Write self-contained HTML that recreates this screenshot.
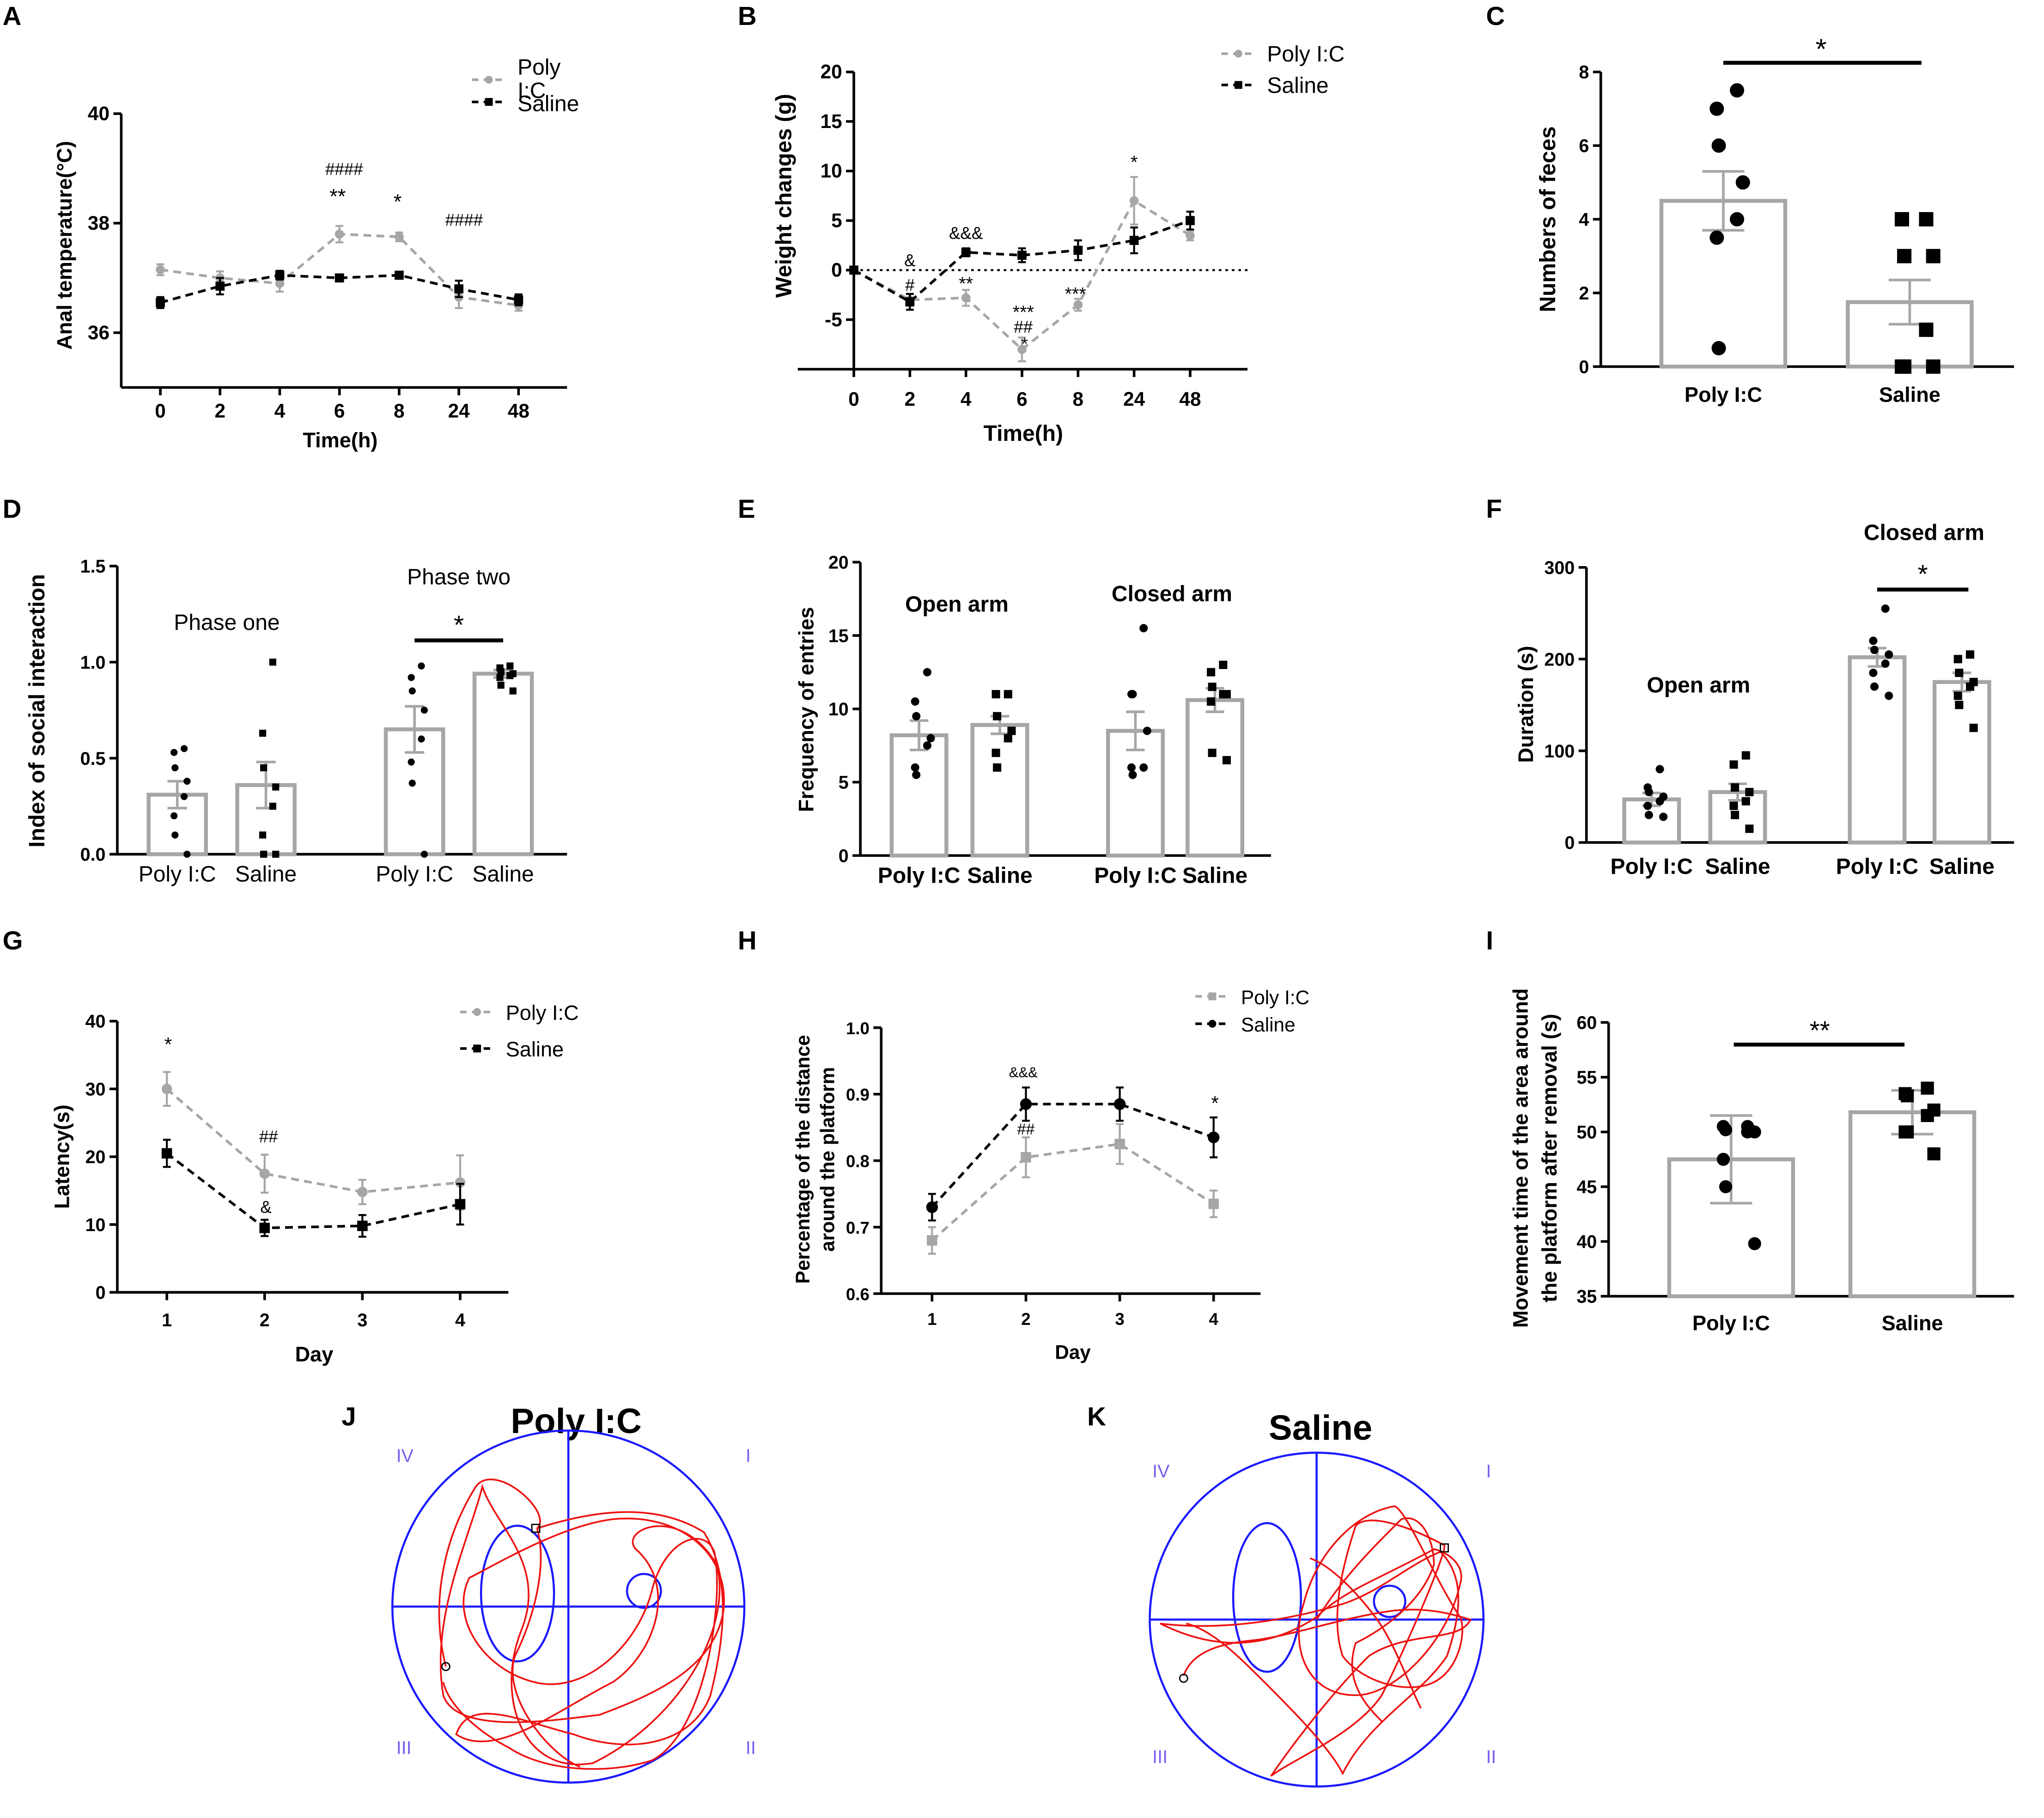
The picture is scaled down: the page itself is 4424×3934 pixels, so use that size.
<!DOCTYPE html>
<html><head><meta charset="utf-8"><style>
html,body{margin:0;padding:0;background:#fff;}
svg{display:block;font-family:"Liberation Sans",Arial,sans-serif;}
</style></head><body>
<svg id="fig" xmlns="http://www.w3.org/2000/svg" width="4424" height="3934" viewBox="0 0 1568 1394">
<rect x="0" y="0" width="1568" height="1394" fill="#fff"/>
<g font-weight="bold" font-size="20">
<text x="2" y="19">A</text>
<text x="566" y="19">B</text>
<text x="1140" y="19">C</text>
<text x="2" y="397">D</text>
<text x="566" y="397">E</text>
<text x="1140" y="397">F</text>
<text x="2" y="728">G</text>
<text x="566" y="728">H</text>
<text x="1140" y="728">I</text>
<text x="262" y="1093">J</text>
<text x="834" y="1093">K</text>
</g>
<g id="maze">
<text x="442" y="1099" font-size="27" font-weight="bold" text-anchor="middle">Poly I:C</text>
<text x="1013" y="1104" font-size="27" font-weight="bold" text-anchor="middle">Saline</text>
<g fill="#7b5cf0" font-size="14">
<text x="304" y="1121">IV</text>
<text x="572" y="1121">I</text>
<text x="304" y="1345">III</text>
<text x="572" y="1345">II</text>
<text x="884" y="1133">IV</text>
<text x="1140" y="1133">I</text>
<text x="884" y="1352">III</text>
<text x="1140" y="1352">II</text>
</g>
<g fill="none" stroke="#1a1aff" stroke-width="1.6">
<circle cx="436" cy="1232" r="135"/>
<line x1="301" y1="1232" x2="571" y2="1232"/>
<line x1="436" y1="1097" x2="436" y2="1367"/>
<ellipse cx="397" cy="1222" rx="28" ry="52"/>
<circle cx="494" cy="1220" r="13"/>
<circle cx="1010" cy="1242" r="128"/>
<line x1="882" y1="1242" x2="1138" y2="1242"/>
<line x1="1010" y1="1114" x2="1010" y2="1370"/>
<ellipse cx="972" cy="1225" rx="26" ry="57"/>
<circle cx="1066" cy="1228" r="12"/>
</g>
<g fill="none" stroke="#ee1111" stroke-width="1.3">
<path d="M342,1278 C330,1230 340,1180 365,1140 C380,1120 425,1160 412,1172 C450,1160 500,1150 540,1175 C562,1210 555,1260 545,1300 C530,1340 480,1345 440,1330 C400,1320 360,1300 350,1330 C380,1350 430,1310 470,1290 C500,1270 520,1220 490,1190 C470,1175 520,1150 550,1200 C562,1250 520,1320 455,1352 C400,1362 380,1300 400,1250 C420,1200 380,1170 370,1140 C360,1180 330,1240 340,1300 C350,1330 420,1320 460,1315 C500,1300 548,1280 555,1235 C560,1190 520,1160 470,1165 C430,1170 380,1200 360,1210 C345,1240 370,1280 410,1290 C450,1300 490,1260 500,1220 C510,1180 540,1170 548,1190 C556,1230 540,1330 500,1350 C470,1360 420,1360 390,1340 C370,1330 345,1310 340,1290 M412,1172 C420,1200 410,1240 395,1270 C385,1300 420,1345 445,1355"/>
<path d="M908,1285 C915,1265 940,1260 960,1258 C990,1255 1030,1240 1070,1235 C1100,1232 1120,1240 1128,1242 C1120,1260 1080,1250 1050,1270 C1020,1300 990,1340 975,1362 C990,1350 1040,1330 1060,1300 C1080,1260 1110,1190 1108,1185 C1080,1170 1050,1160 1040,1170 C1030,1200 1020,1240 1030,1270 C1045,1290 1080,1300 1100,1290 C1120,1280 1125,1250 1120,1240 C1100,1210 1080,1160 1070,1155 C1040,1160 1010,1190 1000,1230 C990,1260 1000,1300 1040,1300 C1070,1300 1110,1260 1120,1215 C1125,1200 1110,1190 1100,1188 C1060,1210 1030,1220 1010,1240 C980,1260 940,1270 890,1245 C930,1250 980,1245 1030,1230 C1060,1220 1080,1200 1105,1190 C1125,1210 1120,1240 1110,1270 C1090,1300 1050,1320 1030,1360 C1020,1340 990,1310 970,1290 C950,1270 930,1250 910,1245 M1010,1242 C1030,1210 1050,1190 1075,1165 C1090,1160 1100,1180 1100,1200 C1090,1230 1060,1250 1040,1260 C1030,1290 1050,1310 1060,1320 M1005,1195 C1020,1200 1040,1220 1055,1240 C1070,1260 1080,1290 1090,1310"/>
</g>
<circle cx="342" cy="1278" r="3" fill="none" stroke="#000"/>
<rect x="408" y="1169" width="6" height="6" fill="none" stroke="#000"/>
<circle cx="908" cy="1287" r="3" fill="none" stroke="#000"/>
<rect x="1105" y="1184" width="6" height="6" fill="none" stroke="#000"/>
</g>
</svg>
<script>
const NS="http://www.w3.org/2000/svg";
const S=document.getElementById('fig');
// ---------- DATA ----------
const timeCats=["0","2","4","6","8","24","48"];
const aPoly=[37.15,37.0,36.9,37.8,37.75,36.65,36.5];
const aPolyErr=[0.1,0.12,0.15,0.15,0.08,0.2,0.1];
const aSal=[36.55,36.85,37.05,37.0,37.05,36.8,36.6];
const aSalErr=[0.1,0.15,0.08,0.05,0.06,0.15,0.1];
const aTicks=[36,38,40];
const bPoly=[0,-3,-2.8,-8,-3.5,7,3.5];
const bPolyErr=[0.3,0.6,0.8,1.2,0.6,2.4,0.5];
const bSal=[0,-3.2,1.8,1.5,2,3,5];
const bSalErr=[0.3,0.8,0.4,0.7,1.0,1.3,0.9];
const bTicks=[-5,0,5,10,15,20];
const cCats=["Poly I:C","Saline"];
const cMeans=[4.5,1.75];
const cErr=[0.8,0.6];
const cPolyPts=[7.5,7.0,6.0,5.0,4.0,3.5,0.5];
const cSalPts=[4.0,4.0,3.0,3.0,1.0,0,0,0];
const cTicks=[0,2,4,6,8];
const dCats=["Poly I:C","Saline","Poly I:C","Saline"];
const dMeans=[0.31,0.36,0.65,0.94];
const dErr=[0.07,0.12,0.12,0.02];
const dPts=[[0.55,0.53,0.45,0.38,0.3,0.2,0.1,0.0],[1.0,0.63,0.45,0.35,0.25,0.1,0.0,0.0],[0.98,0.92,0.85,0.75,0.6,0.48,0.37,0.0],[0.98,0.97,0.95,0.94,0.93,0.92,0.88,0.85]];
const dTicks=[0,0.5,1.0,1.5];
const eCats=["Poly I:C","Saline","Poly I:C","Saline"];
const eMeans=[8.2,8.9,8.5,10.6];
const eErr=[1.0,0.6,1.3,0.8];
const ePts=[[12.5,10.5,9.5,8.0,7.5,6.0,5.5],[11.0,11.0,9.5,8.5,8.0,7.0,6.0],[15.5,11.0,11.0,8.5,6.0,6.0,5.5],[13.0,12.5,11.5,11.0,11.0,10.5,7.0,6.5]];
const eTicks=[0,5,10,15,20];
const fCats=["Poly I:C","Saline","Poly I:C","Saline"];
const fMeans=[47,55,202,175];
const fErr=[7,9,10,10];
const fPts=[[80,60,55,50,45,40,30,28],[95,85,60,55,45,40,30,15],[255,220,210,205,195,185,170,160],[205,200,185,175,170,160,150,125]];
const fTicks=[0,100,200,300];
const dayCats=["1","2","3","4"];
const gPoly=[30,17.5,14.8,16.2];
const gPolyErr=[2.5,2.8,1.8,4.0];
const gSal=[20.5,9.5,9.8,13];
const gSalErr=[2.0,1.2,1.6,3.0];
const gTicks=[0,10,20,30,40];
const hPoly=[0.68,0.805,0.825,0.735];
const hPolyErr=[0.02,0.03,0.03,0.02];
const hSal=[0.73,0.885,0.885,0.835];
const hSalErr=[0.02,0.025,0.025,0.03];
const hTicks=[0.6,0.7,0.8,0.9,1.0];
const iCats=["Poly I:C","Saline"];
const iMeans=[47.5,51.8];
const iErr=[4.0,2.0];
const iPolyPts=[50.5,50.5,50.2,50.0,50.0,47.5,45.0,39.8];
const iSalPts=[54.0,53.5,53.3,52.0,51.5,50.0,50.0,48.0];
const iTicks=[35,40,45,50,55,60];
const GRAY="#a6a6a6";
// ---------- HELPERS ----------
function mk(tag,attrs,parent){const e=document.createElementNS(NS,tag);for(const k in attrs)e.setAttribute(k,attrs[k]);(parent||S).appendChild(e);return e;}
function txt(x,y,s,size,anchor,bold,parent,rot){const t=mk('text',{x:x,y:y,'font-size':size,'text-anchor':anchor||'middle','font-weight':bold?'bold':'normal'},parent);if(rot)t.setAttribute('transform','rotate(-90 '+x+' '+y+')');t.textContent=s;return t;}
function linScale(d0,d1,r0,r1){return v=>r0+(v-d0)*(r1-r0)/(d1-d0);}
function yAxis(g,x,ytop,ybot,ticks,ys,fmt,size,bold){
 const l=mk('line',{x1:x,y1:ytop,x2:x,y2:ybot,stroke:'#000','stroke-width':2},g);
 
 
 ticks.forEach(v=>{const tl=mk('line',{x1:x-6,y1:ys(v),x2:x,y2:ys(v),stroke:'#000','stroke-width':2},g);
  
  
  const t=txt(x-9,ys(v)+5,fmt(v),size,'end',bold,g);
  
  });
}
function xAxisLine(g,x0,x1,y){const l=mk('line',{x1:x0,y1:y,x2:x1,y2:y,stroke:'#000','stroke-width':2},g);
 
 }
function marker(g,x,y,shape,r,color){let m;
 if(shape==='sq'){m=mk('rect',{x:x-r,y:y-r,width:2*r,height:2*r,fill:color},g);}
 else{m=mk('circle',{cx:x,cy:y,r:r,fill:color},g);}
 return m;}
function errBar(g,x,y1,y2,w,color,sw){const p=mk('path',{d:`M${x},${y1}V${y2}M${x-w},${y1}H${x+w}M${x-w},${y2}H${x+w}`,stroke:color,'stroke-width':sw||1.5,fill:'none'},g);
 
 }
function series(g,xs,ys,vals,errs,color,shape,r,dash,name){
 const d=vals.map((v,i)=>(i?'L':'M')+xs(i)+','+ys(v)).join('');
 const p=mk('path',{d:d,fill:'none',stroke:color,'stroke-width':2,'stroke-dasharray':dash},g);
 
 
 vals.forEach((v,i)=>{errBar(g,xs(i),ys(v+errs[i]),ys(v-errs[i]),3,color,1.5);
  const m=marker(g,xs(i),ys(v),shape,r,color);
  
  });
}
function xCats(g,cats,xs,y,size,bold){cats.forEach((c,i)=>{const t=txt(xs(i),y,c,size,'middle',bold,g);
 
 });}
function xTicks(g,n,xs,y){for(let i=0;i<n;i++){const l=mk('line',{x1:xs(i),y1:y,x2:xs(i),y2:y+6,stroke:'#000','stroke-width':2},g);
 
 }}
function bars(g,cats,means,errs,cx,w,ys,y0,name){
 means.forEach((v,i)=>{const b=mk('rect',{x:cx[i]-w/2,y:ys(v),width:w,height:y0-ys(v),fill:'#fff',stroke:GRAY,'stroke-width':3},g);
  
  
  errBar(g,cx[i],ys(v+errs[i]),ys(v-errs[i]),w*0.17,GRAY,2);});
}
function pts(g,vals,cx,spread,ys,shape,r,name){
 vals.forEach((v,i)=>{const off=((i%4)-1.5)*spread*(i%2?1:-0.7);
  const m=marker(g,cx+off,ys(v),shape,r,'#000');
  
  });}
function legend(g,x,y,items,size){items.forEach((it,i)=>{const yy=y+i*it.dy;
 const l=mk('line',{x1:x,y1:yy,x2:x+26,y2:yy,stroke:it.color,'stroke-width':2,'stroke-dasharray':'5,4'},g);
 
 
 const m=marker(g,x+13,yy,it.shape,3,it.color);
 
 
 const t=txt(x+35,yy+(it.ty!==undefined?it.ty:6),it.label,size,'start',false,g);
 
 });}
function group(name){const g=mk('g',{});
 
 
 return g;}
function ann(g,x,y,s,size){const t=txt(x,y,s,size||14,'middle',false,g);
 
 }
// ---------- PANEL A ----------
(function(){const g=group('panel-a-temperature');
 const ys=linScale(35,40,297,87),xs=i=>123+i*45.8;
 yAxis(g,93,87,297,aTicks,ys,v=>v,15,true);xAxisLine(g,93,435,297);xTicks(g,7,xs,297);
 xCats(g,timeCats,xs,320,15,true);
 const t=txt(261,343,'Time(h)',16,'middle',true,g);
 const y=txt(55,188,'Anal temperature(°C)',16,'middle',true,g,true);
 series(g,xs,ys,aPoly,aPolyErr,GRAY,'c',3.5,'6,4','polyic');
 series(g,xs,ys,aSal,aSalErr,'#000','sq',3.5,'6,4','saline');
 ann(g,264,134,'####',13);ann(g,259,156,'**',16);ann(g,305,160,'*',16);ann(g,356,173,'####',13);
 legend(g,362,61,[{label:'Poly',color:GRAY,shape:'c',dy:17,ty:-4},{label:'Saline',color:'#000',shape:'sq',dy:17,ty:7}],17);
 const ic=txt(397,75,'I:C',17,'start',false,g);
})();
// ---------- PANEL B ----------
(function(){const g=group('panel-b-weight');
 const ys=linScale(-10,20,283,55),xs=i=>655+i*43;
 yAxis(g,655,55,283,bTicks,ys,v=>v,15,true);xAxisLine(g,612,957,283);xTicks(g,7,xs,283);
 xCats(g,timeCats,xs,311,15,true);
 const t=txt(785,338,'Time(h)',17,'middle',true,g);
 const y=txt(607,150,'Weight changes (g)',17,'middle',true,g,true);
 const zl=mk('line',{x1:655,y1:ys(0),x2:957,y2:ys(0),stroke:'#000','stroke-width':1.5,'stroke-dasharray':'2,3'},g);
 
 
 series(g,xs,ys,bPoly,bPolyErr,GRAY,'c',3.5,'6,4','polyic');
 series(g,xs,ys,bSal,bSalErr,'#000','sq',3.5,'6,4','saline');
 ann(g,698,204,'&',13);ann(g,698,223,'#',13);ann(g,741,183,'&&&',13);ann(g,741,222,'**',14);
 ann(g,785,244,'***',14);ann(g,785,255,'##',13);ann(g,786,268,'*',13);ann(g,825,230,'***',14);ann(g,870,129,'*',14);
 legend(g,937,41,[{label:'Poly I:C',color:GRAY,shape:'c',dy:24},{label:'Saline',color:'#000',shape:'sq',dy:24}],17);
})();
// ---------- PANEL C ----------
(function(){const g=group('panel-c-feces');
 const ys=linScale(0,8,281,55),cx=[1322,1465];
 yAxis(g,1228,55,281,cTicks,ys,v=>v,14,true);xAxisLine(g,1228,1545,281);
 bars(g,cCats,cMeans,cErr,cx,95,ys,281,'feces');
 pts(g,cPolyPts,cx[0],10,ys,'c',5.5,'polyic-dot');pts(g,cSalPts,cx[1],12,ys,'sq',5.5,'saline-dot');
 xCats(g,cCats,i=>cx[i],308,16,true);
 const y=txt(1193,168,'Numbers of feces',17,'middle',true,g,true);
 const s=mk('line',{x1:1322,y1:48,x2:1474,y2:48,stroke:'#000','stroke-width':3},g);
 ann(g,1397,45,'*',22);
})();
// ---------- PANEL D ----------
(function(){const g=group('panel-d-social');
 const ys=linScale(0,1.5,655,434),cx=[136,204,318,386];
 yAxis(g,90,434,655,dTicks,ys,v=>v.toFixed(1),14,true);xAxisLine(g,90,435,655);
 bars(g,dCats,dMeans,dErr,cx,44,ys,655,'social');
 dPts.forEach((a,k)=>pts(g,a,cx[k],5,ys,k%2?'sq':'c',2.7,'social-dot'));
 xCats(g,dCats,i=>cx[i],676,17,false);
 const y=txt(34,545,'Index of social interaction',17,'middle',true,g,true);
 const p1=txt(174,483,'Phase one',17,'middle',false,g);
 const p2=txt(352,448,'Phase two',17,'middle',false,g);
 const s=mk('line',{x1:318,y1:491,x2:386,y2:491,stroke:'#000','stroke-width':3},g);
 ann(g,352,486,'*',20);
})();
// ---------- PANEL E ----------
(function(){const g=group('panel-e-entries');
 const ys=linScale(0,20,656,431),cx=[705,767,871,932];
 yAxis(g,660,431,656,eTicks,ys,v=>v,14,true);xAxisLine(g,660,975,656);
 bars(g,eCats,eMeans,eErr,cx,42,ys,656,'entries');
 ePts.forEach((a,k)=>pts(g,a,cx[k],6,ys,k%2?'sq':'c',3.2,'entries-dot'));
 xCats(g,eCats,i=>cx[i],677,17,true);
 const y=txt(624,544,'Frequency of entries',16,'middle',true,g,true);
 const a=txt(734,469,'Open arm',17,'middle',true,g);
 const b=txt(899,461,'Closed arm',17,'middle',true,g);
})();
// ---------- PANEL F ----------
(function(){const g=group('panel-f-duration');
 const ys=linScale(0,300,646,435),cx=[1267,1333,1440,1505];
 yAxis(g,1217,435,646,fTicks,ys,v=>v,14,true);xAxisLine(g,1217,1545,646);
 bars(g,fCats,fMeans,fErr,cx,42,ys,646,'duration');
 fPts.forEach((a,k)=>pts(g,a,cx[k],6,ys,k%2?'sq':'c',3.2,'duration-dot'));
 xCats(g,fCats,i=>cx[i],670,17,true);
 const y=txt(1176,540,'Duration (s)',16,'middle',true,g,true);
 const a=txt(1303,531,'Open arm',17,'middle',true,g);
 const b=txt(1476,414,'Closed arm',17,'middle',true,g);
 const s=mk('line',{x1:1440,y1:452,x2:1510,y2:452,stroke:'#000','stroke-width':3},g);
 ann(g,1475,447,'*',20);
})();
// ---------- PANEL G ----------
(function(){const g=group('panel-g-latency');
 const ys=linScale(0,40,991,783),xs=i=>128+i*75;
 yAxis(g,90,783,991,gTicks,ys,v=>v,14,true);xAxisLine(g,90,390,991);xTicks(g,4,xs,991);
 xCats(g,dayCats,xs,1017,14,true);
 const t=txt(241,1044,'Day',16,'middle',true,g);
 const y=txt(53,887,'Latency(s)',16,'middle',true,g,true);
 series(g,xs,ys,gPoly,gPolyErr,GRAY,'c',4,'6,4','polyic');
 series(g,xs,ys,gSal,gSalErr,'#000','sq',4,'6,4','saline');
 ann(g,129,806,'*',15);ann(g,206,876,'##',13);ann(g,204,930,'&',13);
 legend(g,353,776,[{label:'Poly I:C',color:GRAY,shape:'c',dy:28},{label:'Saline',color:'#000',shape:'sq',dy:28}],16);
})();
// ---------- PANEL H ----------
(function(){const g=group('panel-h-distance');
 const ys=linScale(0.6,1.0,992,788),xs=i=>715+i*72;
 yAxis(g,676,788,992,hTicks,ys,v=>v.toFixed(1),13,true);xAxisLine(g,676,967,992);xTicks(g,4,xs,992);
 xCats(g,dayCats,xs,1016,13,true);
 const t=txt(823,1042,'Day',15,'middle',true,g);
 const y1=txt(621,889,'Percentage of the distance',15,'middle',true,g,true);
 const y2=txt(640,889,'around the platform',15,'middle',true,g,true);
 series(g,xs,ys,hPoly,hPolyErr,GRAY,'sq',4,'6,4','polyic');
 series(g,xs,ys,hSal,hSalErr,'#000','c',4.5,'6,4','saline');
 ann(g,785,826,'&&&',11);ann(g,787,870,'##',12);ann(g,932,851,'*',15);
 legend(g,917,764,[{label:'Poly I:C',color:GRAY,shape:'sq',dy:21},{label:'Saline',color:'#000',shape:'c',dy:21}],15);
})();
// ---------- PANEL I ----------
(function(){const g=group('panel-i-movement');
 const ys=linScale(35,60,994,784),cx=[1328,1467];
 yAxis(g,1234,784,994,iTicks,ys,v=>v,14,true);xAxisLine(g,1234,1545,994);
 bars(g,iCats,iMeans,iErr,cx,95,ys,994,'movement');
 pts(g,iPolyPts,cx[0],12,ys,'c',5,'polyic-dot');pts(g,iSalPts,cx[1],11,ys,'sq',5,'saline-dot');
 xCats(g,iCats,i=>cx[i],1020,16,true);
 const y1=txt(1172,888,'Movement time of the area around',16,'middle',true,g,true);
 const y2=txt(1194,888,'the platform after removal (s)',16,'middle',true,g,true);
 const s=mk('line',{x1:1330,y1:801,x2:1461,y2:801,stroke:'#000','stroke-width':3},g);
 ann(g,1396,797,'**',20);
})();
</script>
</body></html>
